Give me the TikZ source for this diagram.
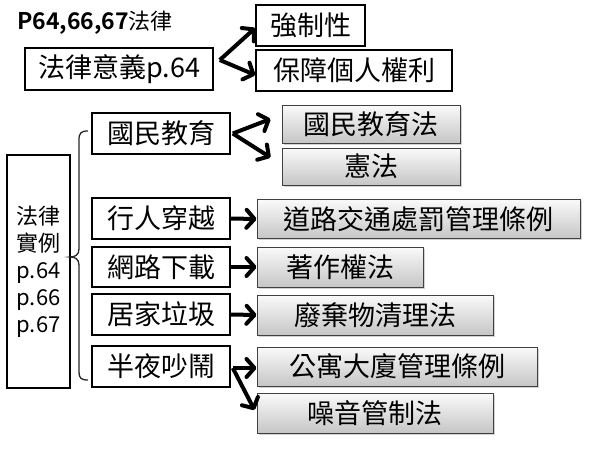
\documentclass[tikz,border=0pt]{standalone}
\usepackage{fontspec}
\setmainfont{Noto Sans CJK TC}
\newfontfamily\cjkbold{Noto Sans CJK TC Bold}
\usetikzlibrary{arrows.meta,shadows}
\tikzset{
  plainbox/.style={draw=black, line width=1.6pt, fill=white, inner sep=0pt, font=\fontsize{27}{30}\selectfont},
  lawbox/.style={draw=black!75, line width=1pt, inner sep=0pt, top color=gray!4, bottom color=gray!45,
     drop shadow={shadow xshift=1.5pt, shadow yshift=-1.5pt, opacity=0.35}, font=\fontsize{27}{30}\selectfont},
  arr/.style={line width=4pt, -{Straight Barb[length=8pt,width=18pt,line width=4pt,round]}},
  bracepath/.style={line width=1.3pt, black!85}
}
\begin{document}
\begin{tikzpicture}[x=1pt,y=-1pt]
\useasboundingbox[fill=white] (0,0) rectangle (600,450);
\node[anchor=west, inner sep=0pt, font=\fontsize{22}{24}\selectfont] (title) at (17,23) {{\cjkbold\fontsize{23}{26}\selectfont P64,66,67}法律};
\node[plainbox, minimum width=188pt, minimum height=42pt] (mean) at (119,69) {法律意義p.64};
\node[plainbox, minimum width=109pt, minimum height=41pt] (force) at (310.5,25.5) {強制性};
\node[plainbox, minimum width=196pt, minimum height=41pt] (protect) at (354,70.5) {保障個人權利};

\node[plainbox, minimum width=63pt, minimum height=233pt, align=center, font=\fontsize{22}{27}\selectfont] (cases) at (38.5,271.5) {法律\\實例\\p.64\\p.66\\p.67};

\node[plainbox, minimum width=138pt, minimum height=41pt] (edu) at (161,133.5) {國民教育};
\node[plainbox, minimum width=138pt, minimum height=41pt] (walk) at (161,218.5) {行人穿越};
\node[plainbox, minimum width=138pt, minimum height=40pt] (dl) at (161,267) {網路下載};
\node[plainbox, minimum width=138pt, minimum height=41pt] (trash) at (161,314.5) {居家垃圾};
\node[plainbox, minimum width=138pt, minimum height=41pt] (night) at (161,366.5) {半夜吵鬧};

\node[lawbox, minimum width=178pt, minimum height=38pt] (edulaw) at (371,124) {國民教育法};
\node[lawbox, minimum width=178pt, minimum height=37pt] (const) at (371,166.5) {憲法};
\node[lawbox, minimum width=323pt, minimum height=39pt] (traffic) at (418.5,219) {道路交通處罰管理條例};
\node[lawbox, minimum width=166pt, minimum height=40pt] (copy) at (340,267) {著作權法};
\node[lawbox, minimum width=236pt, minimum height=40pt] (waste) at (375,315) {廢棄物清理法};
\node[lawbox, minimum width=280pt, minimum height=39pt] (bldg) at (397,366.5) {公寓大廈管理條例};
\node[lawbox, minimum width=236pt, minimum height=40pt] (noise) at (375,413) {噪音管制法};

% brace
\coordinate (btop) at (88,131);
\coordinate (bbot) at (88,380);
\coordinate (btip) at (70,257);
\draw[bracepath] (btop) .. controls (81,131) and (79,133) .. (79,140) -- (79,249)
  .. controls (79,255) and (75,257) .. (btip)
  .. controls (75,257) and (79,259) .. (79,265) -- (79,372)
  .. controls (79,378) and (81,380) .. (bbot);

% arrows
\coordinate (mstart) at ([xshift=6pt,yshift=9pt]mean.east);
\draw[arr] (mstart) -- ([yshift=-2.5pt]force.west);
\draw[arr] (mstart) -- ([yshift=-4.5pt]protect.west);
\coordinate (estart) at ([xshift=2pt]edu.east);
\draw[arr] (estart) -- ([xshift=-11pt,yshift=5pt]edulaw.west);
\draw[arr] (estart) -- ([xshift=-11pt,yshift=9pt]const.west);
\draw[arr] (walk.east) -- (traffic.west);
\draw[arr] (dl.east) -- (copy.west);
\draw[arr] (trash.east) -- (waste.west);
\coordinate (nstart) at ([xshift=2pt,yshift=-1.5pt]night.east);
\draw[arr] (nstart) -- ([yshift=-1.5pt]bldg.west);
\draw[arr] (nstart) -- ([xshift=-2pt,yshift=3pt]noise.west);
\end{tikzpicture}
\end{document}
